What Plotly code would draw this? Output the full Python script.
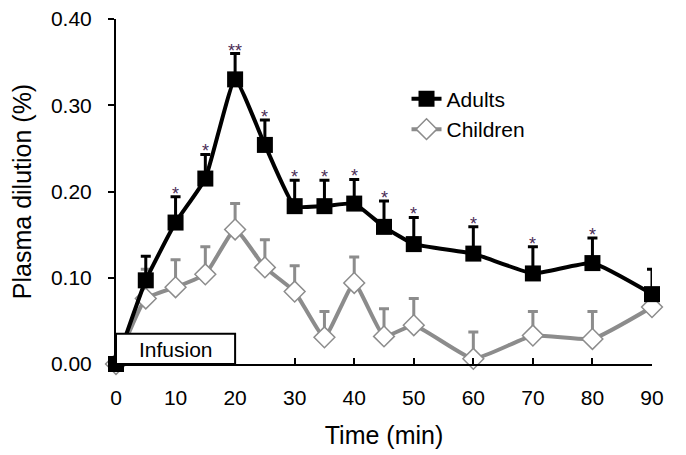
import plotly.graph_objects as go

time = [0, 5, 10, 15, 20, 25, 30, 35, 40, 45, 50, 60, 70, 80, 90]
adults = [0.000, 0.097, 0.164, 0.215, 0.330, 0.254, 0.183, 0.183, 0.186, 0.159, 0.139, 0.128, 0.105, 0.117, 0.081]
adults_err = [0.0, 0.028, 0.030, 0.028, 0.030, 0.029, 0.030, 0.030, 0.028, 0.030, 0.031, 0.031, 0.031, 0.029, 0.029]
children = [0.000, 0.076, 0.089, 0.104, 0.156, 0.112, 0.084, 0.031, 0.094, 0.032, 0.045, 0.006, 0.033, 0.029, 0.066]
children_err = [0.0, 0.034, 0.032, 0.032, 0.030, 0.032, 0.030, 0.030, 0.030, 0.032, 0.031, 0.031, 0.028, 0.032, 0.020]
signif = ["", "", "*", "*", "**", "*", "*", "*", "*", "*", "*", "*", "*", "*", ""]

x_ticks = [0, 10, 20, 30, 40, 50, 60, 70, 80, 90]
y_ticks = [0.0, 0.1, 0.2, 0.3, 0.4]
y_labels = ["0.00", "0.10", "0.20", "0.30", "0.40"]
infusion = (0, 20, 0.035)

FONT = "Liberation Sans, Arial, sans-serif"
FS = 21

fig = go.Figure()

fig.add_trace(go.Scatter(
    x=time, y=children, name="Children", mode="lines+markers",
    line=dict(color="#8c8c8c", width=4, shape="spline", smoothing=0.4),
    marker=dict(symbol="diamond", size=16, color="white", line=dict(color="#8c8c8c", width=1.5)),
    error_y=dict(type="data", symmetric=False, array=children_err, arrayminus=[0]*len(time),
                 color="#8c8c8c", thickness=3, width=5),
    cliponaxis=False,
))
fig.add_trace(go.Scatter(
    x=time, y=adults, name="Adults", mode="lines+markers",
    line=dict(color="black", width=4, shape="spline", smoothing=0.4),
    marker=dict(symbol="square", size=16, color="black"),
    error_y=dict(type="data", symmetric=False, array=adults_err, arrayminus=[0]*len(time),
                 color="black", thickness=3, width=5),
    cliponaxis=False,
))

for t, a, e, s in zip(time, adults, adults_err, signif):
    if s:
        fig.add_annotation(x=t, y=a + e, text=s, showarrow=False, yanchor="bottom",
                           yshift=-9, font=dict(family=FONT, size=18, color="#4a2c55"))

fig.add_shape(type="rect", x0=infusion[0], x1=infusion[1], y0=0, y1=infusion[2],
              line=dict(color="black", width=2), fillcolor="white", layer="above")
fig.add_annotation(x=(infusion[0] + infusion[1]) / 2, y=infusion[2] / 2, text="Infusion",
                   showarrow=False, yshift=-1, font=dict(family=FONT, size=FS, color="black"))

fig.update_layout(
    width=678, height=447,
    margin=dict(l=108, r=34, t=11, b=91, autoexpand=False),
    paper_bgcolor="white", plot_bgcolor="white",
    font=dict(family=FONT, size=FS, color="black"),
    showlegend=True,
    legend=dict(x=0.542, y=0.827, xanchor="left", yanchor="top", traceorder="reversed",
                bgcolor="rgba(0,0,0,0)", font=dict(size=FS), tracegroupgap=0),
)
fig.update_xaxes(range=[0, 90], tickvals=x_ticks, showline=True, linecolor="black", linewidth=2,
                 ticks="inside", ticklen=6, tickwidth=2, tickcolor="black", showgrid=False,
                 zeroline=False, title=dict(text="Time (min)", standoff=18),
                 ticklabelstandoff=14, tickfont=dict(size=FS), ticklabeloverflow="allow")
fig.update_yaxes(range=[0, 0.40], tickvals=y_ticks, ticktext=y_labels, showline=True,
                 linecolor="black", linewidth=2, ticks="outside", ticklen=6, tickwidth=2,
                 tickcolor="black", showgrid=False, zeroline=False, ticklabelstandoff=12,
                 ticklabeloverflow="allow",
                 title=dict(text="Plasma dilution (%)", standoff=16), tickfont=dict(size=FS))

fig.write_html("out.html")
